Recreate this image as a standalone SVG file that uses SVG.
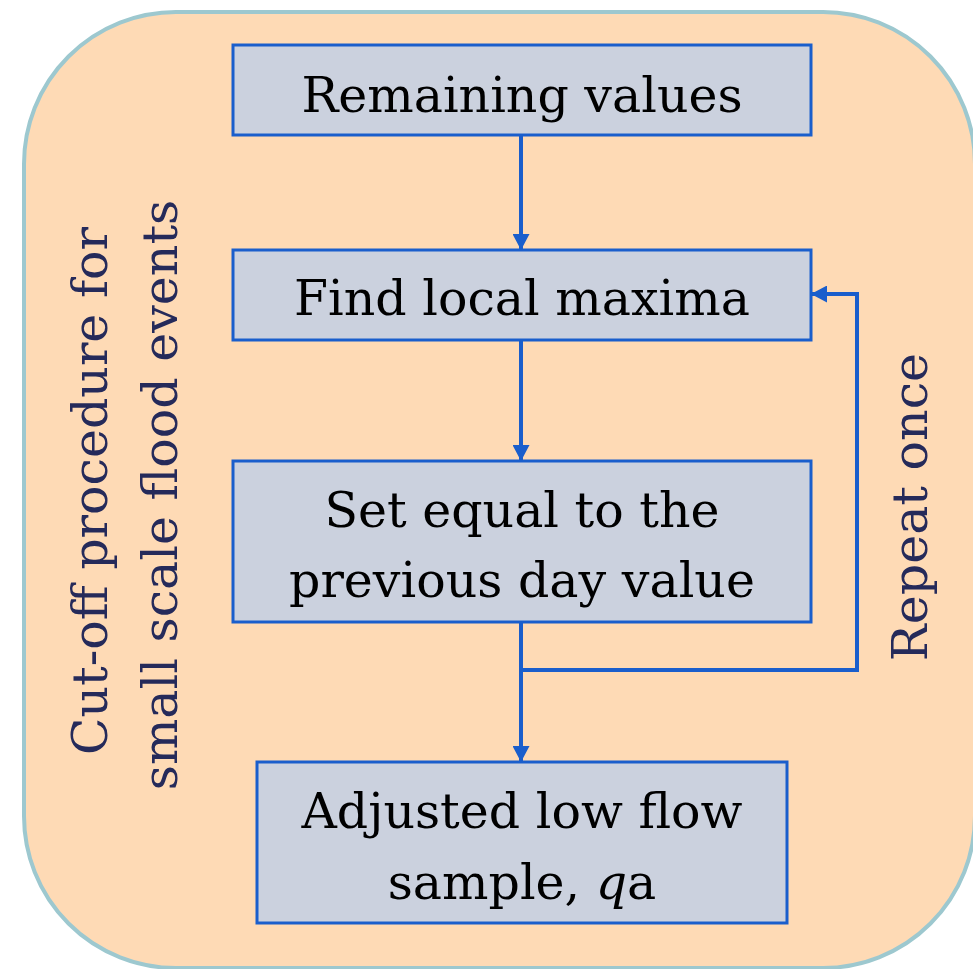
<svg xmlns="http://www.w3.org/2000/svg" width="973" height="969" viewBox="0 0 973 969">
  <style>
    .step rect { fill: #CBD1DE; stroke: #1A5ECC; stroke-width: 3; }
    .step text { font-family: "DejaVu Serif", "Liberation Serif", serif; font-size: 49px; fill: #000; text-anchor: middle; }
    .side { font-family: "DejaVu Serif", "Liberation Serif", serif; font-size: 49px; fill: #252A5A; text-anchor: middle; }
    .link { fill: none; stroke: #1A5ECC; stroke-width: 4; }
  </style>
  <defs>
    <marker id="arrow" markerUnits="userSpaceOnUse" markerWidth="16" markerHeight="17" viewBox="0 0 16 17" refX="16" refY="8.5" orient="auto">
      <path d="M0,0 L16,8.5 L0,17 Z" fill="#1A5ECC"/>
    </marker>
  </defs>

  <!-- rounded panel behind the procedure -->
  <g id="panel">
    <rect x="24" y="12" width="951" height="956" rx="152" ry="152" fill="#FEDAB5" stroke="#9DC8CF" stroke-width="4"/>
    <text class="side" transform="translate(107,491) rotate(-90)">Cut-off procedure for</text>
    <text class="side" transform="translate(177,495) rotate(-90)">small scale flood events</text>
  </g>

  <g id="repeat-label">
    <text class="side" transform="translate(927,507) rotate(-90)">Repeat once</text>
  </g>

  <g id="remaining" class="step">
    <rect x="233" y="45" width="578" height="90"/>
    <text x="522" y="112">Remaining values</text>
  </g>

  <g id="find-maxima" class="step">
    <rect x="233" y="250" width="578" height="90"/>
    <text x="522" y="315">Find local maxima</text>
  </g>

  <g id="set-equal" class="step">
    <rect x="233" y="461" width="578" height="161"/>
    <text x="522" y="527">Set equal to the</text>
    <text x="522" y="597">previous day value</text>
  </g>

  <g id="adjusted" class="step">
    <rect x="257" y="762" width="530" height="161"/>
    <text x="522" y="828">Adjusted low flow</text>
    <text x="522" y="899">sample, <tspan font-style="italic">q</tspan>a</text>
  </g>

  <g id="connectors">
    <path class="link" d="M521,135 L521,250" marker-end="url(#arrow)"/>
    <path class="link" d="M521,340 L521,461" marker-end="url(#arrow)"/>
    <path class="link" d="M521,622 L521,762" marker-end="url(#arrow)"/>
    <path class="link" d="M521,670 L857,670 L857,294 L811,294" marker-end="url(#arrow)"/>
  </g>
</svg>
